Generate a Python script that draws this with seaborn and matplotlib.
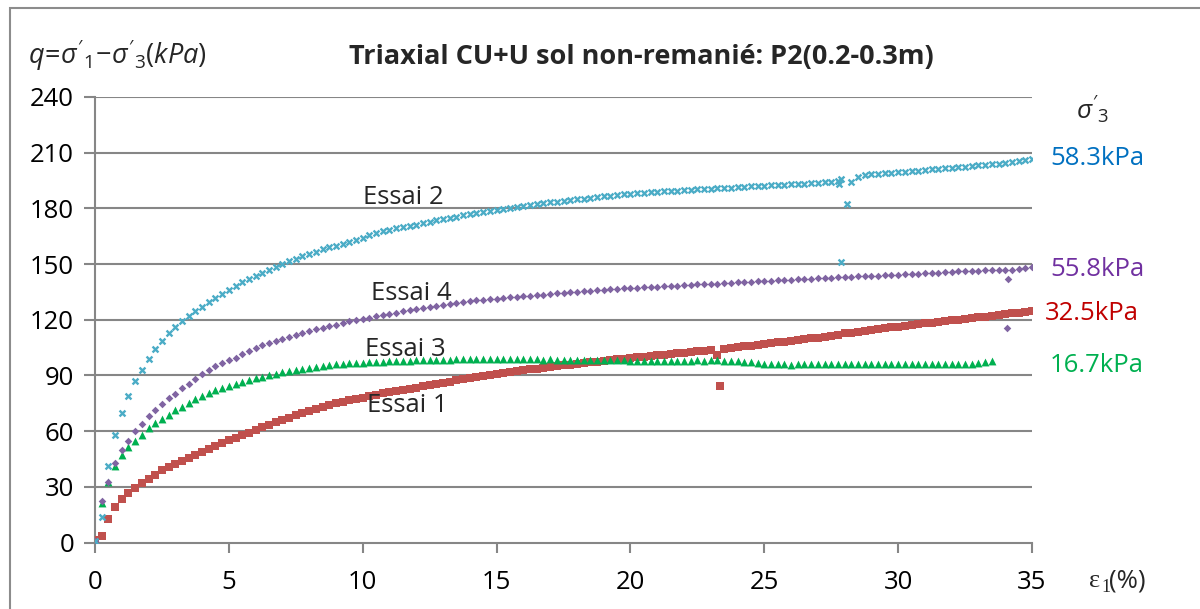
import numpy as np
import pandas as pd
import matplotlib
matplotlib.use("Agg")
import matplotlib.pyplot as plt
from matplotlib.patches import Rectangle
import seaborn as sns

# ---- measured data: deviator stress q (kPa) every 0.25 % axial strain ----
STEP = 0.25

q_essai1 = [1.3, 3.5, 12.5, 19, 23.2, 26.5, 29.5, 31.8, 34.2, 36.3, 38.9, 40.7, 42.1, 44.1, 45.4, 47.2,
            48.7, 50.3, 51.8, 53.4, 55, 56.2, 58, 59.2, 60.6, 62, 63.3, 64.7, 66, 67.3, 68.5, 69.8,
            71, 72, 73, 74, 75, 75.8, 76.5, 77.3, 78, 78.8, 79.5, 80.3, 81, 81.6, 82.3, 82.9,
            83.5, 84.1, 84.7, 85.4, 86, 86.6, 87.3, 87.9, 88.5, 89.1, 89.7, 90.3, 90.8, 91.3, 91.8, 92.2,
            92.7, 93.2, 93.6, 94.1, 94.5, 94.9, 95.4, 95.8, 96.2, 96.6, 97, 97.4, 97.8, 98.2, 98.6, 98.9,
            99.3, 99.7, 100.1, 100.4, 100.8, 101.2, 101.6, 101.9, 102.3, 102.7, 103.1, 103.4, 103.8, 101, 104.3, 104.7,
            105.2, 105.6, 106, 106.4, 107, 107.4, 107.8, 108.2, 108.6, 109, 109.4, 109.9, 110.3, 110.9, 111.4, 112,
            112.6, 113.1, 113.6, 114, 114.5, 115, 115.4, 115.9, 116.3, 116.7, 117.2, 117.6, 118, 118.4, 118.9, 119.3,
            119.7, 120.1, 120.5, 120.9, 121.3, 121.7, 122.1, 122.6, 123, 123.4, 123.9, 124.3, 124.8]

q_essai2 = [1, 14, 41, 58, 69.5, 79, 87, 93, 98.8, 104, 108.7, 112.7, 116.3, 119.3, 122, 124.7,
            127, 129.3, 131.6, 133.8, 136, 138.3, 140.1, 141.9, 143.7, 145.4, 147, 148.5, 150, 151.4, 152.8, 154.2,
            155.5, 156.7, 157.9, 159, 160, 161, 162, 163.1, 164.3, 165.6, 166.7, 167.7, 168.6, 169.4, 170.1, 170.7,
            171.3, 172.1, 172.8, 173.5, 174.2, 174.9, 175.6, 176.2, 176.8, 177.5, 178.1, 178.7, 179.2, 179.7, 180.2, 180.7,
            181.2, 181.7, 182.2, 182.7, 183.2, 183.6, 184, 184.5, 184.9, 185.3, 185.7, 186.1, 186.5, 186.8, 187.2, 187.5,
            187.8, 188.1, 188.4, 188.7, 189, 189.2, 189.4, 189.6, 189.8, 190, 190.2, 190.4, 190.6, 190.8, 191, 191.2,
            191.4, 191.6, 191.8, 192, 192.2, 192.4, 192.6, 192.8, 193, 193.2, 193.4, 193.6, 193.8, 194, 194.2, 194.6,
            np.nan, 194.4, 197, 197.8, 198.3, 198.6, 198.8, 199, 199.5, 199.8, 200.1, 200.4, 200.7, 201, 201.3, 201.6,
            201.9, 202.2, 202.5, 202.8, 203.1, 203.4, 203.7, 204.1, 204.5, 204.9, 205.3, 205.8, 206.4]

q_essai3 = [0, 21.4, 32.5, 41, 47.2, 51.3, 54.9, 58.1, 61.5, 64.3, 66.7, 68.7, 71.2, 73.1, 75.2, 77.2,
            79, 80.5, 82.1, 83.2, 84.5, 85.5, 86.5, 87.5, 88.4, 89.3, 90.2, 91, 91.7, 92.3, 92.9, 93.5,
            94.1, 94.6, 95.1, 95.5, 95.9, 96.2, 96.5, 96.7, 96.9, 97.1, 97.3, 97.5, 97.7, 97.8, 97.9, 98,
            98.1, 98.2, 98.3, 98.4, 98.5, 98.5, 98.6, 98.7, 98.8, 98.9, 98.8, 98.9, 98.8, 98.9, 98.7, 98.8,
            98.7, 98.6, 98.7, 98.5, 98.6, 98.5, 98.4, 98.5, 98.3, 98.4, 98.3, 98.2, 98.3, 98.2, 98.1, 98.2,
            98, 97.9, 97.8, 97.7, 97.8, 97.9, 97.7, 97.8, 98, 97.9, 98.1, 98, 98.2, 98.1, 98, 97.8,
            97.6, 97.4, 97.2, 96.7, 96.2, 95.9, 95.9, 96, 95.8, 96, 96.1, 96.2, 96.1, 96.3, 96.2, 96.4,
            96.3, 96.2, 96.1, 96.2, 96, 96.1, 96.2, 96, 96.1, 96.2, 96, 96.1, 96.2, 96.1, 96, 96.2,
            96.1, 96.3, 96.2, 96.4, 96.8, 97.2, 98]

q_essai4 = [1, 22.5, 32.8, 42.6, 49.6, 54.6, 59.8, 64, 68.2, 71.4, 74.7, 77.6, 80.2, 83.1, 85.6, 88.2,
            90.6, 93, 95.1, 96.7, 98.1, 99.6, 101.5, 103.3, 105, 106.2, 107.4, 108.6, 109.8, 110.9, 112, 113,
            113.9, 114.8, 115.6, 116.5, 117.4, 118.3, 119.1, 119.8, 120.5, 121.1, 121.8, 122.5, 123.2, 123.8, 124.5, 125.1,
            125.7, 126.3, 126.8, 127.3, 127.8, 128.4, 128.9, 129.4, 129.9, 130.4, 130.8, 131.1, 131.4, 131.7, 132, 132.3,
            132.6, 133, 133.3, 133.6, 133.9, 134.3, 134.6, 134.9, 135.2, 135.5, 135.7, 135.9, 136.2, 136.4, 136.7, 136.9,
            137.1, 137.3, 137.5, 137.7, 137.9, 138.1, 138.3, 138.4, 138.6, 138.8, 139, 139.2, 139.4, 139.5, 139.7, 139.9,
            140.1, 140.3, 140.5, 140.7, 140.9, 141, 141.2, 141.3, 141.5, 141.7, 141.9, 142.1, 142.3, 142.5, 142.6, 142.8,
            143, 143.2, 143.3, 143.5, 143.6, 143.7, 143.9, 144, 144.2, 144.4, 144.6, 144.8, 145, 145.2, 145.4, 145.6,
            145.8, 146, 146.2, 146.3, 146.4, 146.6, 146.7, 146.9, 147, 146.8, 147.3, 147.8, 148.4]

# isolated readings off the regular strain grid
extra_strain_essai1 = [23.35]
extra_q_essai1 = [84.4]
extra_strain_essai2 = [27.8, 27.85, 27.85, 28.1]
extra_q_essai2 = [193.0, 195.8, 151.0, 182.5]
extra_strain_essai4 = [34.1, 34.08]
extra_q_essai4 = [141.8, 115.3]

series_names = ["Essai 1", "Essai 2", "Essai 3", "Essai 4"]
confining = ["32.5kPa", "58.3kPa", "16.7kPa", "55.8kPa"]

y_ticks = [0, 30, 60, 90, 120, 150, 180, 210, 240]
x_ticks = [0, 5, 10, 15, 20, 25, 30, 35]


def frame(name, q, extra_x=(), extra_q=()):
    eps = list(np.arange(len(q)) * STEP) + list(extra_x)
    return pd.DataFrame({"strain": eps, "q": list(q) + list(extra_q), "essai": name}).dropna()


df1 = frame("Essai 1", q_essai1, extra_strain_essai1, extra_q_essai1)
df2 = frame("Essai 2", q_essai2, extra_strain_essai2, extra_q_essai2)
df3 = frame("Essai 3", q_essai3)
df4 = frame("Essai 4", q_essai4, extra_strain_essai4, extra_q_essai4)

sns.set_theme(style="white")
plt.rcParams["font.family"] = ["Open Sans", "DejaVu Sans"]
plt.rcParams["mathtext.fontset"] = "custom"
plt.rcParams["mathtext.it"] = "Open Sans:italic"
plt.rcParams["mathtext.rm"] = "Open Sans"

W, H = 1200, 609
fig = plt.figure(figsize=(W / 100, H / 100), dpi=100)
fig.patch.set_facecolor("white")
ax = fig.add_axes([95 / W, 1 - 542.5 / H, (1032 - 95) / W, (542.5 - 97) / H])

GRID = "#868686"
FS = 18.5

sns.scatterplot(data=df1, x="strain", y="q", marker="s", s=34, color="#C0504D",
                linewidth=0, ax=ax, zorder=3)
sns.scatterplot(data=df3, x="strain", y="q", marker="^", s=32, color="#00B050",
                linewidth=0, ax=ax, zorder=4)
sns.scatterplot(data=df4, x="strain", y="q", marker="D", s=15, color="#8064A2",
                linewidth=0, ax=ax, zorder=5)
sns.scatterplot(data=df2, x="strain", y="q", marker="x", s=18, color="#4BACC6",
                linewidth=1.7, ax=ax, zorder=6)

ax.set_xlim(0, 35)
ax.set_ylim(0, 240)
ax.set_xticks(x_ticks)
ax.set_yticks(y_ticks)
ax.set_xticklabels([str(v) for v in x_ticks])
ax.set_yticklabels([str(v) for v in y_ticks])
ax.set_xlabel("")
ax.set_ylabel("")

for y in y_ticks[1:]:
    ax.axhline(y, color=GRID, lw=1.5, zorder=1)

for side in ("top", "right"):
    ax.spines[side].set_visible(False)
for side in ("left", "bottom"):
    ax.spines[side].set_color(GRID)
    ax.spines[side].set_linewidth(1.5)

ax.tick_params(axis="both", which="major", direction="out", color=GRID, width=1.5,
               labelsize=FS, labelcolor="black")
ax.tick_params(axis="y", length=8, pad=7)
ax.tick_params(axis="x", length=7, pad=13)
ax.tick_params(left=True, bottom=True)

# curve names
ax.text(10.0, 186, "Essai 2", fontsize=FS, va="center", ha="left")
ax.text(10.3, 134.3, "Essai 4", fontsize=FS, va="center", ha="left")
ax.text(10.1, 104.1, "Essai 3", fontsize=FS, va="center", ha="left")
ax.text(10.15, 74, "Essai 1", fontsize=FS, va="center", ha="left")

# confining pressures at the right end of the curves
label_colors = {"58.3kPa": "#0070C0", "55.8kPa": "#7030A0", "32.5kPa": "#C00000", "16.7kPa": "#00B050"}
label_pos = {"58.3kPa": (35.67, 207), "55.8kPa": (35.67, 147.3),
             "32.5kPa": (35.48, 123.5), "16.7kPa": (35.67, 95.5)}
for lab in confining:
    x0, y0 = label_pos[lab]
    ax.text(x0, y0, lab, color=label_colors[lab], fontsize=FS, va="center", ha="left",
            clip_on=False)

ax.text(36.65, 233, r"$\sigma'_3$", fontsize=19, va="center", ha="left", clip_on=False)

# titles and axis captions
fig.text(641 / W, 1 - 57 / H, "Triaxial CU+U sol non-remanié: P2(0.2-0.3m)",
         fontsize=19.5, fontweight="bold", ha="center", va="center")
fig.text(28 / W, 1 - 55 / H, r"$q\!=\!\sigma'_{1}\!-\!\sigma'_{3}(kPa)$",
         fontsize=19.5, ha="left", va="center")
fig.text(1089 / W, 1 - 581 / H, "ε", fontsize=19, family="Liberation Serif",
         ha="left", va="center")
fig.text(1101 / W, 1 - 588 / H, "1", fontsize=13, family="Liberation Serif",
         ha="left", va="center")
fig.text(1109 / W, 1 - 581 / H, "(%)", fontsize=FS, ha="left", va="center")

# chart border
fig.patches.append(Rectangle((10 / W, -0.05), 1.2, 1 - 8 / H + 0.05, transform=fig.transFigure,
                             fill=False, edgecolor="#8c8c8c", lw=1.5))

fig.savefig("out.png", dpi=100, facecolor="white")
